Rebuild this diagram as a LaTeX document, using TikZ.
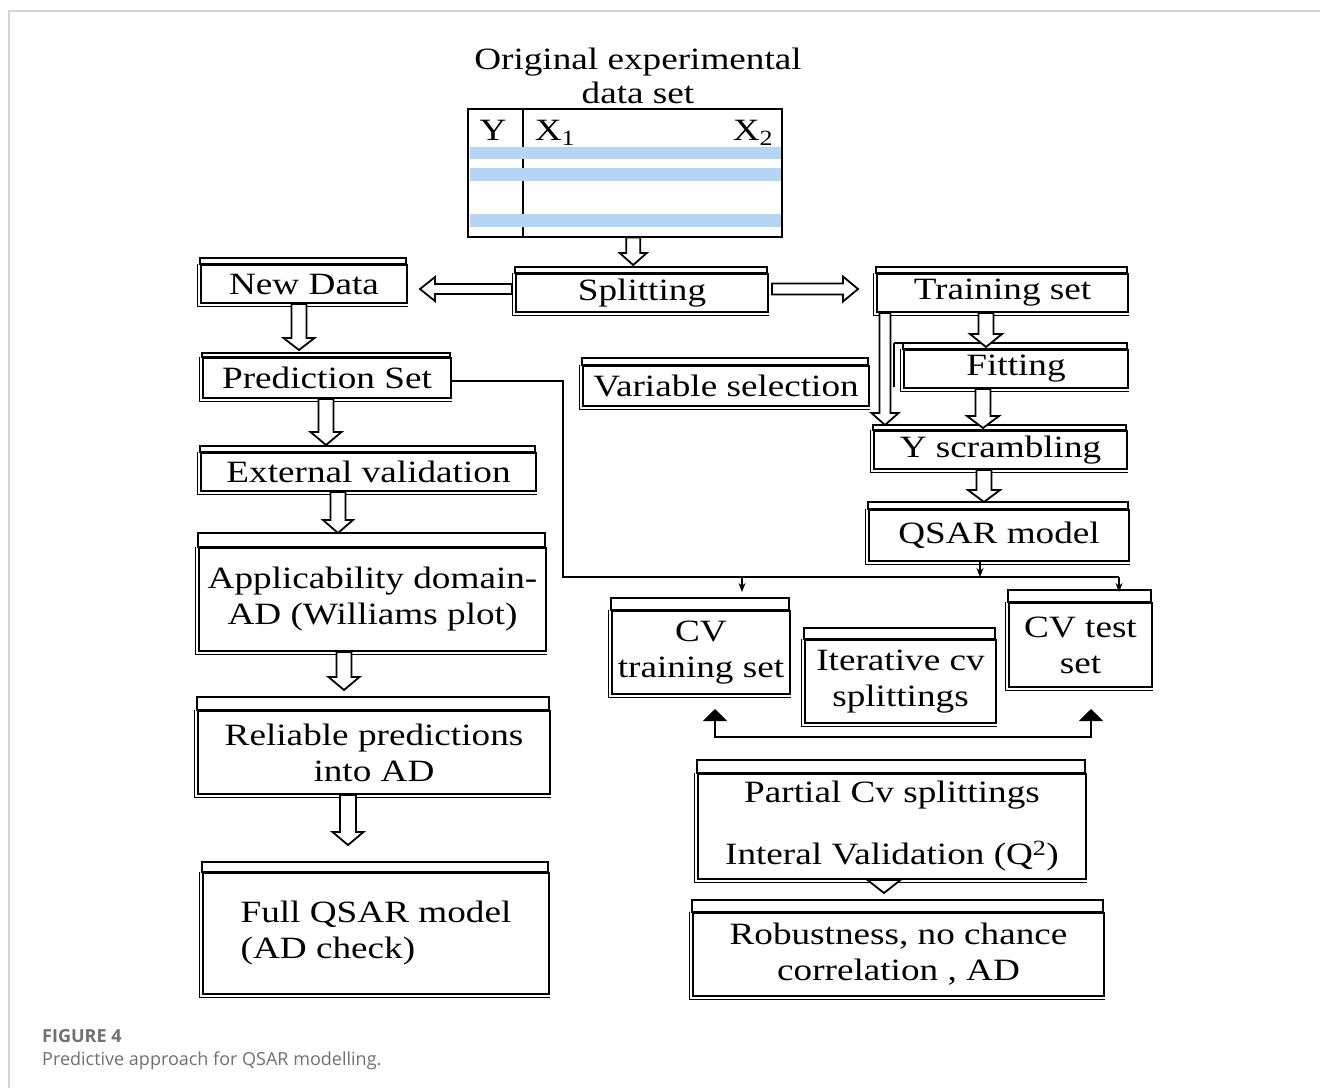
\documentclass[tikz,border=0pt]{standalone}
\usepackage{fontspec}
\setmainfont{Liberation Serif}[FakeStretch=1.2]
\newfontfamily\capfont{Open Sans}
\usetikzlibrary{arrows.meta,calc}

\definecolor{stripe}{HTML}{B4D6F4}
\definecolor{framegray}{HTML}{D4D4D4}
\definecolor{capgray}{HTML}{707070}

\tikzset{
  qmain/.style={draw, line width=2pt, inner sep=0pt, align=center,
                font=\fontsize{31}{36}\selectfont},
  qhead/.style={draw, line width=1.3pt},
  qshade/.style={line width=1.2pt},
  blk/.style={draw, line width=1.8pt, fill=white, line join=miter},
  conn/.style={line width=1.5pt},
  thinarrow/.style={conn, -{Stealth[length=9pt,width=7pt]}},
  biarrow/.style={conn, {Triangle[length=12pt,width=24pt]}-{Triangle[length=12pt,width=24pt]}},
  lbl/.style={font=\fontsize{31}{36}\selectfont, inner sep=0pt},
}

% box with a thin header strip and a shadowed main frame
% #1 options, #2 name, #3 x0, #4 header top, #5 x1, #6 bottom, #7 header height, #8 text
\newcommand\qbox[8][]{%
  \node[qmain,#1, minimum width={#5-#3}, minimum height={#6-#4-#7}, anchor=north west]
    (#2) at (#3,#4+#7) {#8};
  \draw[qhead] (#3,#4) rectangle (#5,#4+#7);
  \draw[qshade] ([xshift=-2.5pt]#2.north west) -- ([xshift=-2.5pt,yshift=-2.5pt]#2.south west)
    -- ([yshift=-2.5pt]#2.south east);
  \coordinate (#2-top) at ([yshift=#7pt]#2.north);
}

% hollow block arrows: #1 start, #2 end, #3 shaft half width, #4 head half width, #5 head length
\newcommand\blockdown[5]{%
  \draw[blk] let \p1=(#1), \p2=(#2) in
    (\x1-#3pt,\y1) -- (\x1-#3pt,\y2+#5pt) -- (\x1-#4pt,\y2+#5pt) -- (\x1,\y2)
    -- (\x1+#4pt,\y2+#5pt) -- (\x1+#3pt,\y2+#5pt) -- (\x1+#3pt,\y1) -- cycle;}
\newcommand\blockleft[5]{%
  \draw[blk] let \p1=(#1), \p2=(#2) in
    (\x1,\y1+#3pt) -- (\x2+#5pt,\y1+#3pt) -- (\x2+#5pt,\y1+#4pt) -- (\x2,\y1)
    -- (\x2+#5pt,\y1-#4pt) -- (\x2+#5pt,\y1-#3pt) -- (\x1,\y1-#3pt) -- cycle;}
\newcommand\blockright[5]{%
  \draw[blk] let \p1=(#1), \p2=(#2) in
    (\x1,\y1+#3pt) -- (\x2-#5pt,\y1+#3pt) -- (\x2-#5pt,\y1+#4pt) -- (\x2,\y1)
    -- (\x2-#5pt,\y1-#4pt) -- (\x2-#5pt,\y1-#3pt) -- (\x1,\y1-#3pt) -- cycle;}

\begin{document}
\begin{tikzpicture}[x=1pt,y=-1pt]
  \useasboundingbox (0,0) rectangle (1320,1088);
  \fill[white] (0,0) rectangle (1320,1088);

  % figure frame
  \draw[framegray, line width=1.6pt] (1320,11) -- (9,11) -- (9,1088);

  % data table
  \node[lbl] (title1) [anchor=base] at (638,69) {Original experimental};
  \node[lbl] (title2) [anchor=base] at (638,103) {data set};
  \node[minimum width=314, minimum height=128, anchor=north west, inner sep=0pt] (data) at (468,109) {};
  \draw[line width=1.8pt] ([xshift=55pt]data.north west) -- ([xshift=55pt]data.south west);
  \fill[stripe] (470,147) rectangle (781,159);
  \fill[stripe] (470,168) rectangle (781,181);
  \fill[stripe] (470,214) rectangle (781,227);
  \draw[line width=2pt] (data.north west) rectangle (data.south east);
  \node[lbl, anchor=base] (ylab) at (493,140) {Y};
  \node[lbl, anchor=base] (x1lab) at (555,140) {X\textsubscript{1}};
  \node[lbl, anchor=base] (x2lab) at (753,140) {X\textsubscript{2}};

  % left column
  \qbox{newdata}{200}{258}{406}{302}{6}{New Data}
  \qbox{split}{515}{267}{767}{311}{6}{Splitting}
  \qbox{pred}{202}{353}{450}{397}{4}{Prediction Set}
  \qbox{ext}{200}{446}{535}{490}{6}{External validation}
  \qbox{app}{198}{533}{545}{650}{14}{Applicability domain-\\AD (Williams plot)}
  \qbox{rel}{197}{697}{549}{793}{13}{Reliable predictions\\into AD}
  \qbox[align=left]{full}{202}{862}{548}{993}{10}{Full QSAR model\\(AD check)}

  % right column
  \qbox{train}{876}{267}{1127}{311}{6}{Training set}
  \qbox{fit}{903}{343}{1127}{387}{6}{Fitting}
  \draw[qhead] (894,343) -- (903,343);
  \draw[qshade] (894,343) -- (894,387);
  \qbox{varsel}{582}{358}{868}{405}{7}{Variable selection}
  \qbox{yscr}{873}{425}{1126}{468}{5}{Y scrambling}
  \qbox{qsar}{868}{502}{1128}{560}{7}{QSAR model}
  \qbox{cvtrain}{611}{598}{789}{693}{12}{CV\\training set}
  \qbox{iter}{804}{628}{995}{722}{11}{Iterative cv\\splittings}
  \qbox{cvtest}{1008}{590}{1151}{686}{12}{CV test\\set}
  \qbox{partial}{697}{760}{1085}{878}{13}{Partial Cv splittings\\[26pt]Interal Validation (Q\textsuperscript{2})}
  \qbox{robust}{692}{900}{1103}{995}{12}{Robustness, no chance\\correlation , AD}

  % hollow block arrows
  \blockdown{[xshift=8pt]data.south}{[yshift=2pt]split-top}{7}{13.5}{12}
  \blockleft{[xshift=-3pt,yshift=4pt]split.west}{[xshift=12pt]newdata.east}{5}{12}{15}
  \blockright{[xshift=3pt,yshift=4pt]split.east}{[xshift=-18pt]train.west}{5.5}{12.5}{15}
  \blockdown{[xshift=-5pt]newdata.south}{[yshift=3pt]pred-top}{7.5}{15.5}{12}
  \blockdown{[xshift=-1pt]pred.south}{[yshift=1pt]ext-top}{7.5}{15.5}{13}
  \blockdown{[xshift=-30.5pt]ext.south}{app-top}{7.5}{15}{13}
  \blockdown{[xshift=-28.5pt]app.south}{[yshift=7pt]rel-top}{7.5}{15.5}{13}
  \blockdown{[xshift=-26pt]rel.south}{[yshift=17pt]full-top}{8}{15.5}{13}
  \blockdown{[xshift=-16.5pt]train.south}{[yshift=-4pt]fit-top}{7.5}{16}{13}
  \blockdown{[xshift=-117.5pt]train.south}{yscr-top}{5.5}{13.5}{12}
  \blockdown{[xshift=-33pt]fit.south}{[yshift=-3pt]yscr-top}{7.5}{16}{12}
  \blockdown{[xshift=-16.5pt]yscr.south}{qsar-top}{7.5}{16}{12}
  \blockdown{[xshift=-8pt]partial.south}{[yshift=7pt]robust-top}{1.5}{16.5}{13}

  % thin connectors
  \coordinate (bus-l) at (563,577);
  \coordinate (bus-r) at (1119,577);
  \coordinate (cvloop) at (900,737);
  \draw[conn] ([yshift=-3pt]pred.east) -| (bus-l) -- (bus-r);
  \draw[thinarrow] (bus-r) -- ([yshift=-2pt]cvtest-top -| bus-r);
  \draw[thinarrow] ([xshift=41pt]cvtrain.north |- bus-l) -- ([xshift=41pt,yshift=6pt]cvtrain-top);
  \draw[thinarrow] ([xshift=-19pt]qsar.south) -- ([xshift=-19pt]qsar.south |- bus-l);
  \draw[biarrow] ([xshift=14pt,yshift=-14pt]cvtrain.south) -- ([xshift=14pt]cvtrain.south |- cvloop)
    -| ([xshift=10.5pt,yshift=-21pt]cvtest.south);

  % caption
  \node[anchor=base west, inner sep=0pt, text=capgray,
        font=\capfont\bfseries\fontsize{18}{22}\selectfont] (figlabel) at (42,1042) {FIGURE 4};
  \node[anchor=base west, inner sep=0pt, text=capgray,
        font=\capfont\fontsize{18}{22}\selectfont] (figcap) at (42,1065) {Predictive approach for QSAR modelling.};
\end{tikzpicture}
\end{document}
